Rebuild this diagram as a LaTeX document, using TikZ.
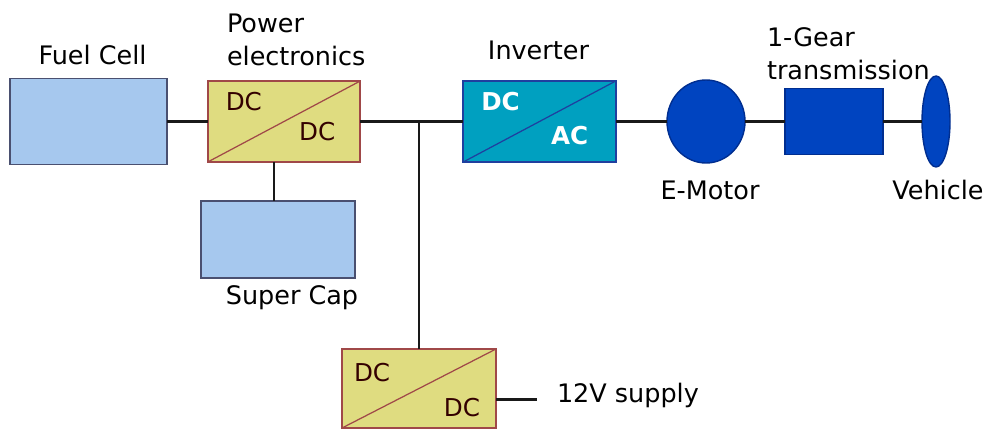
\documentclass[tikz,border=0pt]{standalone}
\usepackage{fontspec}
\setmainfont{DejaVu Sans}
\usepackage{tikz}
\usetikzlibrary{positioning, shapes.geometric}
\definecolor{storeblue}{HTML}{A6C8EE}
\definecolor{storeedge}{HTML}{4A5070}
\definecolor{convyellow}{HTML}{DFDC80}
\definecolor{convedge}{HTML}{A04848}
\definecolor{invteal}{HTML}{00A0C0}
\definecolor{invedge}{HTML}{1F3F9F}
\definecolor{driveblue}{HTML}{0044C0}
\definecolor{driveedge}{HTML}{002E90}

\begin{document}
\begin{tikzpicture}[
        font=\fontsize{14.5}{19}\selectfont,
        every node/.style={outer sep=0pt},
        wire/.style={line width=1.5pt, draw=black!90},
        store/.style={rectangle, fill=storeblue, draw=storeedge, line width=0.8pt,
                      minimum width=3.1cm, minimum height=1.6cm, inner sep=0pt},
        conv/.style={rectangle, fill=convyellow, draw=convedge, line width=0.9pt,
                     minimum width=3.05cm, minimum height=1.62cm, inner sep=0pt},
        inv/.style={conv, fill=invteal, draw=invedge},
        drivepart/.style={fill=driveblue, draw=driveedge, line width=0.8pt, inner sep=0pt},
        tag/.style={font=\fontsize{14}{16}\selectfont, text=black!80!red, inner sep=0pt},
        invtag/.style={tag, text=white, font=\fontsize{14}{16}\selectfont\bfseries},
        lbl/.style={align=left, inner sep=0pt}
    ]
        \useasboundingbox (0, 0) rectangle (19.78, 8.6);

        % --- Fuente y almacenamiento ---
        \node[store, minimum width=3.14cm, minimum height=1.72cm] (fuel) at (1.77, 6.17) {};
        \node[lbl] at (1.85, 7.5) {Fuel Cell};

        \node[conv] (pe) at (5.68, 6.17) {};
        \node[lbl, anchor=west] at (4.54, 7.8) {Power\\electronics};
        \draw[convedge, line width=0.7pt] (pe.south west) -- (pe.north east);
        \node[tag, anchor=west] at ([xshift=0.36cm, yshift=-0.42cm]pe.north west) {DC};
        \node[tag, anchor=east] at ([xshift=-0.5cm, yshift=0.6cm]pe.south east) {DC};

        \node[store, minimum width=3.08cm, minimum height=1.54cm] (cap) at (5.56, 3.81) {};
        \node[lbl] at (5.84, 2.64) {Super Cap};

        % --- Inversor y tren motriz ---
        \node[inv] (invb) at (10.79, 6.17) {};
        \node[lbl] at (10.77, 7.6) {Inverter};
        \draw[invedge, line width=0.7pt] (invb.south west) -- (invb.north east);
        \node[invtag, anchor=west] at ([xshift=0.36cm, yshift=-0.42cm]invb.north west) {DC};
        \node[invtag, anchor=east] at ([xshift=-0.55cm, yshift=0.52cm]invb.south east) {AC};

        \node[drivepart, ellipse, minimum width=1.56cm, minimum height=1.66cm] (motor) at (14.12, 6.17) {};
        \node[lbl] at (14.2, 4.8) {E-Motor};

        \node[drivepart, rectangle, minimum width=1.96cm, minimum height=1.32cm] (gear) at (16.68, 6.17) {};
        \node[lbl, anchor=west] at (15.34, 7.52) {1-Gear\\transmission};

        \node[drivepart, ellipse, minimum width=0.56cm, minimum height=1.82cm] (veh) at (18.72, 6.17) {};
        \node[lbl] at (18.76, 4.8) {Vehicle};

        % --- Convertidor de 12 V ---
        \node[conv, minimum width=3.08cm, minimum height=1.58cm] (aux) at (8.38, 0.83) {};
        \draw[convedge, line width=0.7pt] (aux.south west) -- (aux.north east);
        \node[tag, anchor=west] at ([xshift=0.24cm, yshift=-0.48cm]aux.north west) {DC};
        \node[tag, anchor=east] at ([xshift=-0.32cm, yshift=0.4cm]aux.south east) {DC};
        \coordinate (auxout) at ([xshift=0.82cm, yshift=-0.22cm]aux.east);
        \node[lbl, anchor=west] at (11.14, 0.7) {12V supply};

        % --- Conexiones ---
        \coordinate (tap) at (pe.east -| aux.north);
        \draw[wire] (fuel.east) -- (pe.west);
        \draw[wire] (pe.east) -- (invb.west);
        \draw[wire] ([xshift=-0.2cm]pe.south) -- ([xshift=-0.2cm]pe.south |- cap.north);
        \draw[wire] (tap) -- (aux.north);
        \draw[wire] ([yshift=-0.22cm]aux.east) -- (auxout);
        \draw[wire] (invb.east) -- (motor.west);
        \draw[wire] (motor.east) -- (gear.west);
        \draw[wire] (gear.east) -- (veh.west);
    \end{tikzpicture}
\end{document}
